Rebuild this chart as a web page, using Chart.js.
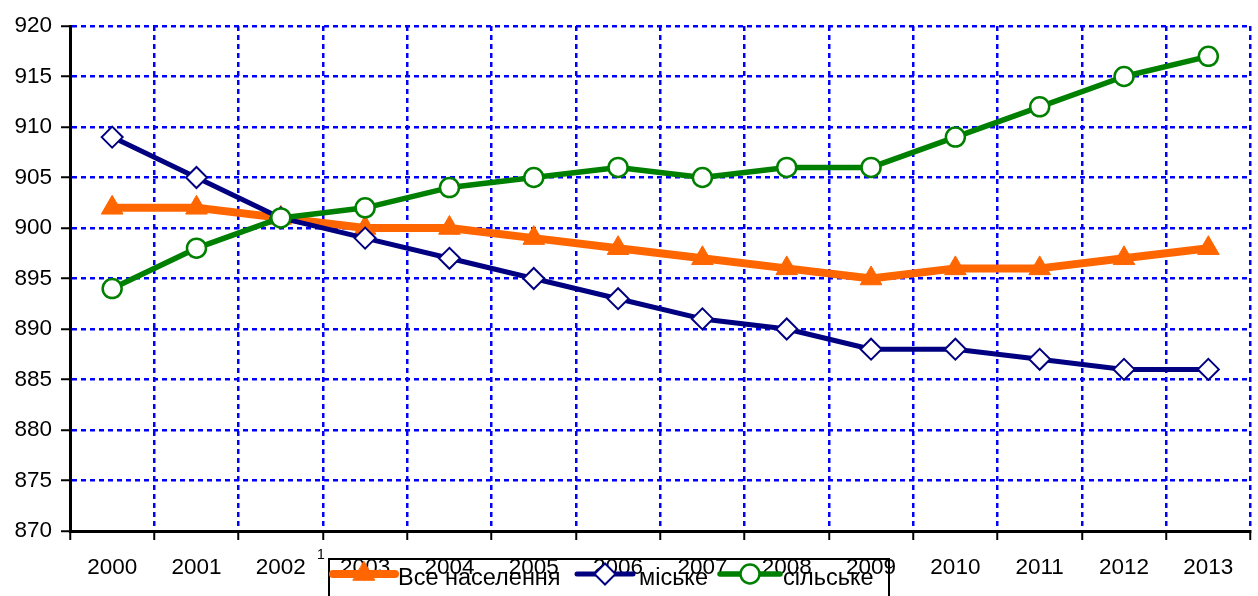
<!DOCTYPE html>
<html>
<head>
<meta charset="utf-8">
<script src="https://cdn.jsdelivr.net/npm/chart.js@4"></script>
<style>
  html, body { margin: 0; padding: 0; background: #fff; overflow: hidden; }
  #wrap { width: 1258px; height: 596px; overflow: hidden; }
  #box { width: 1264px; height: 596px; }
</style>
</head>
<body>
<div id="wrap"><div id="box"><canvas id="chart"></canvas></div></div>
<script>
const years = ["2000", "2001", "2002", "2003", "2004", "2005", "2006", "2007", "2008", "2009", "2010", "2011", "2012", "2013"];
const allPop = [902, 902, 901, 900, 900, 899, 898, 897, 896, 895, 896, 896, 897, 898];
const urban = [909, 905, 901, 899, 897, 895, 893, 891, 890, 888, 888, 887, 886, 886];
const rural = [894, 898, 901, 902, 904, 905, 906, 905, 906, 906, 909, 912, 915, 917];
const seriesNames = ["Все населення", "міське", "сільське"];

const FONT = "Arial, 'Liberation Sans', sans-serif";

// legend box drawn over the bottom of the chart (no fill, labels show through)
const legendPlugin = {
  id: "boxLegend",
  afterDraw(chart) {
    const c = chart.ctx;
    c.save();
    c.strokeStyle = "#000";
    c.lineWidth = 2;
    c.strokeRect(329, 559, 560, 60);

    const items = [
      { x0: 333, x1: 395, tx: 398 },
      { x0: 577, x1: 633, tx: 639 },
      { x0: 720, x1: 780, tx: 783 },
    ];
    const y = 574;
    chart.data.datasets.forEach((ds, i) => {
      const it = items[i];
      c.strokeStyle = ds.borderColor;
      c.lineWidth = ds.borderWidth;
      c.lineCap = "round";
      c.setLineDash([]);
      c.beginPath();
      c.moveTo(it.x0, y);
      c.lineTo(it.x1, y);
      c.stroke();
      c.fillStyle = ds.pointBackgroundColor;
      c.strokeStyle = ds.pointBorderColor;
      c.lineWidth = ds.pointBorderWidth;
      Chart.helpers.drawPoint(c, {
        pointStyle: ds.pointStyle,
        radius: ds.pointRadius,
        borderWidth: ds.pointBorderWidth,
        rotation: 0,
      }, (it.x0 + it.x1) / 2, y);
      c.fillStyle = "#000";
      c.font = "23.5px " + FONT;
      c.textBaseline = "alphabetic";
      c.textAlign = "left";
      c.fillText(ds.label, it.tx, 585);
    });

    // footnote mark next to 2002
    c.font = "14px " + FONT;
    c.fillStyle = "#000";
    c.fillText("1", 317, 559);
    c.restore();
  },
};

new Chart(document.getElementById("chart"), {
  type: "line",
  data: {
    labels: years,
    datasets: [
      {
        label: seriesNames[0],
        data: allPop,
        borderColor: "#FF6600",
        borderWidth: 8,
        borderJoinStyle: "round",
        pointStyle: "triangle",
        pointRadius: 12.5,
        pointBackgroundColor: "#FF6600",
        pointBorderColor: "#FF6600",
        pointBorderWidth: 1,
        order: 3,
      },
      {
        label: seriesNames[1],
        data: urban,
        borderColor: "#000080",
        borderWidth: 5,
        borderJoinStyle: "round",
        pointStyle: "rectRot",
        pointRadius: 10.5,
        pointBackgroundColor: "#fff",
        pointBorderColor: "#000080",
        pointBorderWidth: 2,
        order: 2,
      },
      {
        label: seriesNames[2],
        data: rural,
        borderColor: "#008000",
        borderWidth: 5.5,
        borderJoinStyle: "round",
        pointStyle: "circle",
        pointRadius: 9.5,
        pointBackgroundColor: "#fff",
        pointBorderColor: "#008000",
        pointBorderWidth: 2.5,
        order: 1,
      },
    ],
  },
  options: {
    responsive: true,
    maintainAspectRatio: false,
    animation: false,
    layout: { padding: { top: 26, right: 0, left: 0, bottom: 0 } },
    plugins: {
      legend: { display: false },
      tooltip: { enabled: false },
    },
    elements: { line: { tension: 0 } },
    scales: {
      x: {
        offset: true,
        grid: {
          offset: true,
          color: "#0000FF",
          lineWidth: 2.5,
          tickColor: "#000",
          tickWidth: 2,
          tickLength: 9,
          tickBorderDash: [],
        },
        border: { display: true, color: "#000", width: 3, dash: [5, 4] },
        ticks: {
          color: "#000",
          font: { size: 22.5, family: FONT },
          padding: 14,
          maxRotation: 0,
          autoSkip: false,
        },
        afterFit(scale) { scale.height = 65; },
      },
      y: {
        min: 870,
        max: 920,
        grid: {
          color: (ctx) => (ctx.tick && ctx.tick.value === 870 ? "rgba(0,0,0,0)" : "#0000FF"),
          lineWidth: 2.5,
          tickColor: "#000",
          tickWidth: 2,
          tickLength: 9,
          tickBorderDash: [],
        },
        border: { display: true, color: "#000", width: 3, dash: [5, 4] },
        ticks: {
          stepSize: 5,
          color: "#000",
          font: { size: 22.5, family: FONT },
          padding: 9,
        },
        afterFit(scale) { scale.width = 70; },
      },
    },
  },
  plugins: [legendPlugin],
});
</script>
</body>
</html>
